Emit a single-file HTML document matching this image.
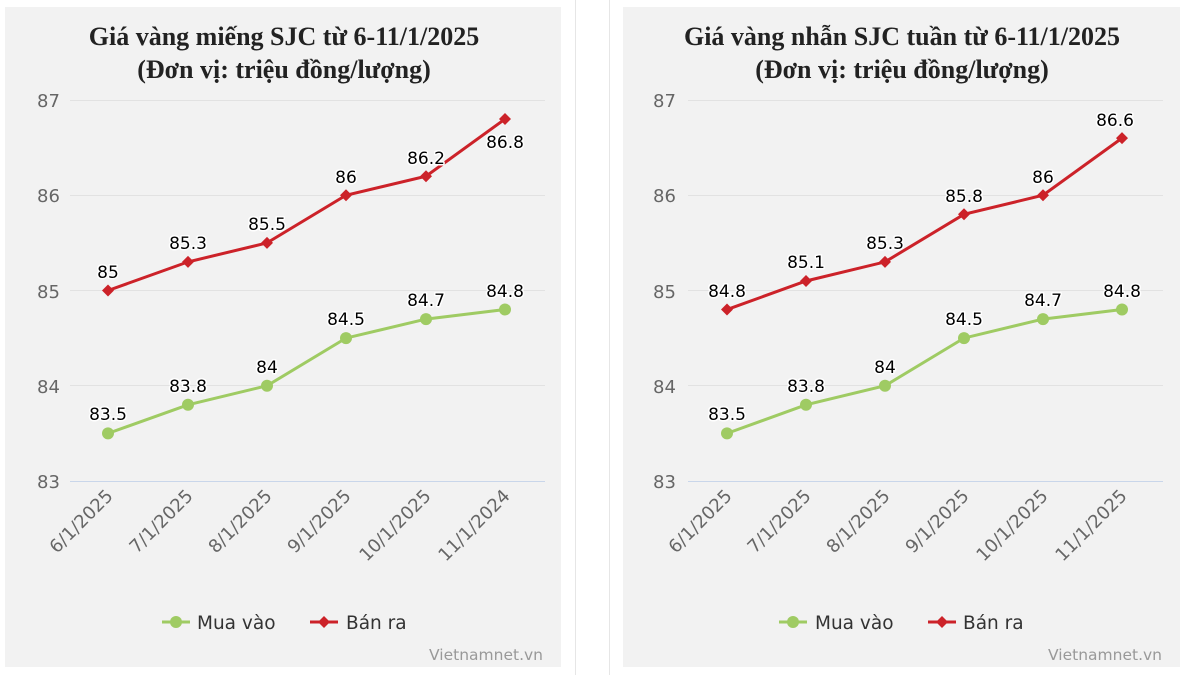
<!DOCTYPE html>
<html><head><meta charset="utf-8"><style>
body{margin:0;background:#fff;width:1188px;height:675px;overflow:hidden}
svg{display:block}
.t{font-family:"Liberation Serif",serif;font-weight:bold;font-size:26px;fill:#222;text-anchor:middle}
.ax{font-family:"DejaVu Sans","Liberation Sans",sans-serif;font-size:18px;fill:#666}
.dl{font-family:"DejaVu Sans","Liberation Sans",sans-serif;font-size:17px;fill:#000;text-anchor:middle;stroke:#fff;stroke-width:3px;paint-order:stroke;stroke-linejoin:round}
.lg{font-family:"DejaVu Sans","Liberation Sans",sans-serif;font-size:18.5px;fill:#333}
.wm{font-family:"DejaVu Sans","Liberation Sans",sans-serif;font-size:15.5px;fill:#999;text-anchor:end}
</style></head><body>
<svg width="1188" height="675" xmlns="http://www.w3.org/2000/svg">
<rect x="5" y="7" width="556" height="660" fill="#f2f2f2"/>
<rect x="623" y="7" width="557" height="660" fill="#f2f2f2"/>
<line x1="575.5" y1="0" x2="575.5" y2="675" stroke="#e6e6e6"/>
<line x1="609.5" y1="0" x2="609.5" y2="675" stroke="#e6e6e6"/>

<!-- LEFT -->
<text class="t" x="284" y="45">Giá vàng miếng SJC từ 6-11/1/2025</text>
<text class="t" x="284" y="78">(Đơn vị: triệu đồng/lượng)</text>
<g stroke="#e2e2e2" stroke-width="1">
<line x1="70" y1="100.5" x2="545" y2="100.5"/><line x1="70" y1="195.5" x2="545" y2="195.5"/>
<line x1="70" y1="290.5" x2="545" y2="290.5"/><line x1="70" y1="385.5" x2="545" y2="385.5"/>
</g>
<line x1="70" y1="481.5" x2="545" y2="481.5" stroke="#c9d6ea"/>
<g class="ax"><text x="37" y="107">87</text><text x="37" y="202">86</text><text x="37" y="298">85</text><text x="37" y="393">84</text><text x="37" y="488">83</text></g>
<g class="ax" text-anchor="end">
<text transform="translate(114,497) rotate(-45)">6/1/2025</text>
<text transform="translate(194,497) rotate(-45)">7/1/2025</text>
<text transform="translate(273,497) rotate(-45)">8/1/2025</text>
<text transform="translate(352,497) rotate(-45)">9/1/2025</text>
<text transform="translate(432,497) rotate(-45)">10/1/2025</text>
<text transform="translate(511,497) rotate(-45)">11/1/2024</text>
</g>
<polyline fill="none" stroke="#9fcb63" stroke-width="3" points="108,433.4 188,404.8 267,385.75 346,338.1 426,319.1 505,309.55"/>
<g fill="#9fcb63"><circle cx="108" cy="433.4" r="6"/><circle cx="188" cy="404.8" r="6"/><circle cx="267" cy="385.75" r="6"/><circle cx="346" cy="338.1" r="6"/><circle cx="426" cy="319.1" r="6"/><circle cx="505" cy="309.55" r="6"/></g>
<polyline fill="none" stroke="#cc2229" stroke-width="3" points="108,290.5 188,261.9 267,242.9 346,195.25 426,176.2 505,119.05"/>
<g fill="#cc2229">
<path d="M108 284.5l6 6-6 6-6-6z"/><path d="M188 255.9l6 6-6 6-6-6z"/><path d="M267 236.9l6 6-6 6-6-6z"/><path d="M346 189.25l6 6-6 6-6-6z"/><path d="M426 170.2l6 6-6 6-6-6z"/><path d="M505 113.05l6 6-6 6-6-6z"/></g>
<g class="dl">
<text x="108" y="278">85</text><text x="188" y="249">85.3</text><text x="267" y="230">85.5</text><text x="346" y="183">86</text><text x="426" y="164">86.2</text><text x="505" y="148">86.8</text>
<text x="108" y="420">83.5</text><text x="188" y="392">83.8</text><text x="267" y="373">84</text><text x="346" y="325">84.5</text><text x="426" y="306">84.7</text><text x="505" y="297">84.8</text>
</g>
<line x1="162" y1="622" x2="190" y2="622" stroke="#9fcb63" stroke-width="3"/><circle cx="176" cy="622" r="6" fill="#9fcb63"/>
<text class="lg" x="197" y="629">Mua vào</text>
<line x1="310" y1="622" x2="338" y2="622" stroke="#cc2229" stroke-width="3"/><path d="M324 616l6 6-6 6-6-6z" fill="#cc2229"/>
<text class="lg" x="346" y="629">Bán ra</text>
<text class="wm" x="543" y="660">Vietnamnet.vn</text>

<!-- RIGHT -->
<text class="t" x="902" y="45">Giá vàng nhẫn SJC tuần từ 6-11/1/2025</text>
<text class="t" x="902" y="78">(Đơn vị: triệu đồng/lượng)</text>
<g stroke="#e2e2e2" stroke-width="1">
<line x1="688" y1="100.5" x2="1163" y2="100.5"/><line x1="688" y1="195.5" x2="1163" y2="195.5"/>
<line x1="688" y1="290.5" x2="1163" y2="290.5"/><line x1="688" y1="385.5" x2="1163" y2="385.5"/>
</g>
<line x1="688" y1="481.5" x2="1163" y2="481.5" stroke="#c9d6ea"/>
<g class="ax"><text x="653" y="107">87</text><text x="653" y="202">86</text><text x="653" y="298">85</text><text x="653" y="393">84</text><text x="653" y="488">83</text></g>
<g class="ax" text-anchor="end">
<text transform="translate(733,497) rotate(-45)">6/1/2025</text>
<text transform="translate(812,497) rotate(-45)">7/1/2025</text>
<text transform="translate(891,497) rotate(-45)">8/1/2025</text>
<text transform="translate(970,497) rotate(-45)">9/1/2025</text>
<text transform="translate(1049,497) rotate(-45)">10/1/2025</text>
<text transform="translate(1128,497) rotate(-45)">11/1/2025</text>
</g>
<polyline fill="none" stroke="#9fcb63" stroke-width="3" points="727,433.4 806,404.8 885,385.75 964,338.1 1043,319.1 1122,309.55"/>
<g fill="#9fcb63"><circle cx="727" cy="433.4" r="6"/><circle cx="806" cy="404.8" r="6"/><circle cx="885" cy="385.75" r="6"/><circle cx="964" cy="338.1" r="6"/><circle cx="1043" cy="319.1" r="6"/><circle cx="1122" cy="309.55" r="6"/></g>
<polyline fill="none" stroke="#cc2229" stroke-width="3" points="727,309.55 806,281 885,261.9 964,214.3 1043,195.25 1122,138.1"/>
<g fill="#cc2229">
<path d="M727 303.55l6 6-6 6-6-6z"/><path d="M806 275l6 6-6 6-6-6z"/><path d="M885 255.9l6 6-6 6-6-6z"/><path d="M964 208.3l6 6-6 6-6-6z"/><path d="M1043 189.25l6 6-6 6-6-6z"/><path d="M1122 132.1l6 6-6 6-6-6z"/></g>
<g class="dl">
<text x="727" y="297">84.8</text><text x="806" y="268">85.1</text><text x="885" y="249">85.3</text><text x="964" y="202">85.8</text><text x="1043" y="183">86</text><text x="1115" y="126">86.6</text>
<text x="727" y="420">83.5</text><text x="806" y="392">83.8</text><text x="885" y="373">84</text><text x="964" y="325">84.5</text><text x="1043" y="306">84.7</text><text x="1122" y="297">84.8</text>
</g>
<line x1="779" y1="622" x2="807" y2="622" stroke="#9fcb63" stroke-width="3"/><circle cx="793" cy="622" r="6" fill="#9fcb63"/>
<text class="lg" x="815" y="629">Mua vào</text>
<line x1="928" y1="622" x2="956" y2="622" stroke="#cc2229" stroke-width="3"/><path d="M942 616l6 6-6 6-6-6z" fill="#cc2229"/>
<text class="lg" x="963" y="629">Bán ra</text>
<text class="wm" x="1162" y="660">Vietnamnet.vn</text>
</svg>
</body></html>
